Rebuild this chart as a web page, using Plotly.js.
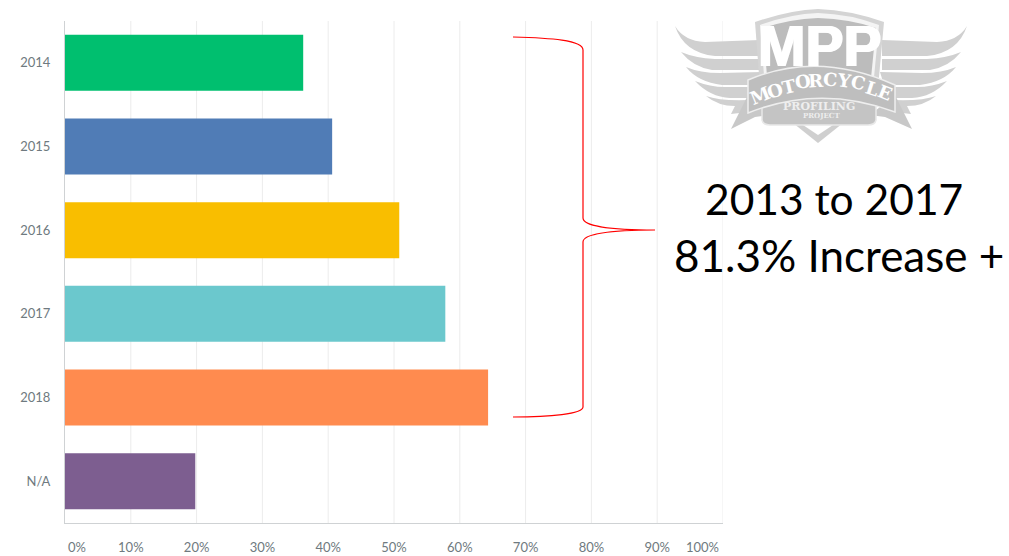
<!DOCTYPE html>
<html>
<head>
<meta charset="utf-8">
<script src="https://cdn.plot.ly/plotly-3.0.1.min.js"></script>
<style>html,body{margin:0;padding:0;background:#fff}#chart{width:1009px;height:556px}</style>
</head>
<body>
<div id="chart"></div>
<script>
const categories = ['2014','2015','2016','2017','2018','N/A'];
const values = [36.2,40.6,50.8,57.8,64.3,19.8];
const barColors = ['#00bf6f','#507cb6','#f9be00','#6bc8cd','#ff8b4f','#7d5e90'];
const tickVals = [10,20,30,40,50,60,70,80,90];
const tickLabels = ['10%','20%','30%','40%','50%','60%','70%','80%','90%'];
const gridVals = [0,10,20,30,40,50,60,70,80,90,100];
const calloutLines = ['2013 to 2017','81.3% Increase +'];
const logoLetters = ['M','O','T','O','R','C','Y','C','L','E'];
const logoLetterX = [760,775,789,803,816,830,844,858,872,885];
const logoLetterY = [95,90,86,82,80,79,80,83,88,93];
const logoLetterA = [-22,-18,-13,-8,-3,3,8,13,18,22];

const W = 1009, H = 556;
// Convert a pixel-space SVG path into paper coordinates for decoration shapes.
function P(d){
  return d.replace(/(-?[\d.]+),(-?[\d.]+)/g,(m,x,y)=>(x/W).toFixed(5)+','+(1-y/H).toFixed(5));
}
function M(d,c){ // mirror a left-wing path on the wing centre line
  return d.replace(/(-?[\d.]+),(-?[\d.]+)/g,(m,x,y)=>(2*c-x)+','+y);
}
function S(d,fill,line,width){
  return {type:'path',xref:'paper',yref:'paper',path:P(d),fillcolor:fill,
          line:{color:line||'rgba(0,0,0,0)',width:width||0},layer:'above'};
}
function T(x,y,text,size,color,family,opts){
  return Object.assign({xref:'paper',yref:'paper',x:x/W,y:1-y/H,text:text,showarrow:false,
    xanchor:'center',yanchor:'middle',font:{size:size,color:color,family:family}},opts||{});
}

const wing = '#d0d0d0';
const feathers = [
  'M675,26 Q684,41 705,42 L760,40 L760,56 L715,56 Q684,53 675,26 Z',
  'M681,52 Q695,58 715,59 L760,59 L760,70 L712,70 Q693,67 681,52 Z',
  'M686,67 Q700,73 720,73 L762,72 L758,85 L722,85 Q698,82 686,67 Z',
  'M695,81 Q710,87 725,87 L750,87 L748,98 L730,98 Q710,97 695,81 Z',
  'M706,96 Q720,101 748,100 L748,112 L731,114 L735,106 Q718,106 706,96 Z'
];
const shapes = [];
feathers.forEach(f=>{ shapes.push(S(f,wing)); shapes.push(S(M(f,821),wing)); });
// ribbon tails
shapes.push(S('M748,95 L731,129 L755,117 L770,115 Z','#c8c8c8'));
shapes.push(S('M895,95 L912,129 L885,117 L870,115 Z','#c8c8c8'));
// shield
shapes.push(S('M755,22 Q790,10 818,9 Q850,10 884,22 L878,88 L760,88 Z','#d4d4d4'));
shapes.push(S('M760,25 Q790,14 818,13 Q850,14 879,25 L873,88 L765,88 Z','#f4f4f4'));
shapes.push(S('M763,28 Q790,19 818,18 Q850,19 876,28 L870,88 L768,88 Z','#bcbcbc'));
// lower panel and point
shapes.push(S('M793,123 L818,143 L843,123 Z','#cfcfcf'));
shapes.push(S('M803,125 L818,135 L833,125 Z','#ffffff'));
shapes.push(S('M766,98 L872,98 L876,104 L876,120 Q875,125 868,125 L770,125 Q763,125 762,120 L762,104 Z','#c4c4c4','#e8e8e8',1.5));
// banner
shapes.push(S('M748,80 Q818,50 895,85 L895,112 Q820,84 748,113 Z','#bebebe','#eeeeee',1.5));
// brace
shapes.push({type:'path',xref:'paper',yref:'paper',layer:'above',
  path:P('M513,37 C550,38 583,40 583,50 L583,218 C583,226 610,230 655,230 C610,230 583,234 583,242 L583,407 C583,414 550,417 513,417'),
  line:{color:'#ff0000',width:1.2},fillcolor:'rgba(0,0,0,0)'});

const tickFont = {family:'Lato, sans-serif',size:13,color:'#6f7a80'};
const annotations = [
  T(77,547,'0%',13,'#6f7a80','Lato, sans-serif'),
  T(702,547,'100%',13,'#6f7a80','Lato, sans-serif'),
  T(834,198,calloutLines[0],42.5,'#000','Lato, sans-serif'),
  T(839,255,calloutLines[1],44,'#000','Lato, sans-serif'),
  T(820,46,'<b>MPP</b>',57,'#ffffff','"Liberation Sans Narrow", sans-serif',
    {font:{size:57,color:'#ffffff',family:'"Liberation Sans Narrow", sans-serif',shadow:'1px 0 0 #fff, -1px 0 0 #fff'}}),
  T(819,106,'<b>PROFILING</b>',11,'#eeeeee','"DejaVu Serif", serif'),
  T(821,115,'<b>PROJECT</b>',7,'#eeeeee','"DejaVu Serif", serif')
];
logoLetters.forEach((c,i)=>{
  annotations.push(T(logoLetterX[i],logoLetterY[i],'<b>'+c+'</b>',18,'#fff','"DejaVu Serif", serif',
    {textangle:logoLetterA[i]}));
});

const data = [{
  type:'bar',orientation:'h',y:categories,x:values,width:0.67,
  marker:{color:barColors,line:{width:0}},hoverinfo:'skip'
}];
const layout = {
  width:W,height:H,margin:{l:0,r:0,t:0,b:0},
  paper_bgcolor:'#fff',plot_bgcolor:'#fff',showlegend:false,
  xaxis:{domain:[65/W,723/W],range:[0,100],tickmode:'array',tickvals:tickVals,ticktext:tickLabels,
    tickfont:tickFont,ticks:'outside',ticklen:12,tickcolor:'rgba(0,0,0,0)',
    showgrid:false,zeroline:false,showline:true,linecolor:'#cfd2d4',linewidth:1,fixedrange:true},
  yaxis:{domain:[1-523/H,1-21/H],type:'category',autorange:'reversed',tickfont:tickFont,
    ticks:'outside',ticklen:11,tickcolor:'rgba(0,0,0,0)',showgrid:false,zeroline:false,
    showline:true,linecolor:'#cfd2d4',linewidth:1,fixedrange:true},
  shapes:gridVals.slice(1).map(v=>({type:'line',xref:'x',yref:'paper',x0:v,x1:v,y0:1-523/H,y1:1-21/H,
    line:{color:'#ececec',width:1},layer:'below'})).concat(shapes),
  annotations:annotations
};
Plotly.newPlot('chart',data,layout,{displayModeBar:false,staticPlot:true});
</script>
</body>
</html>
